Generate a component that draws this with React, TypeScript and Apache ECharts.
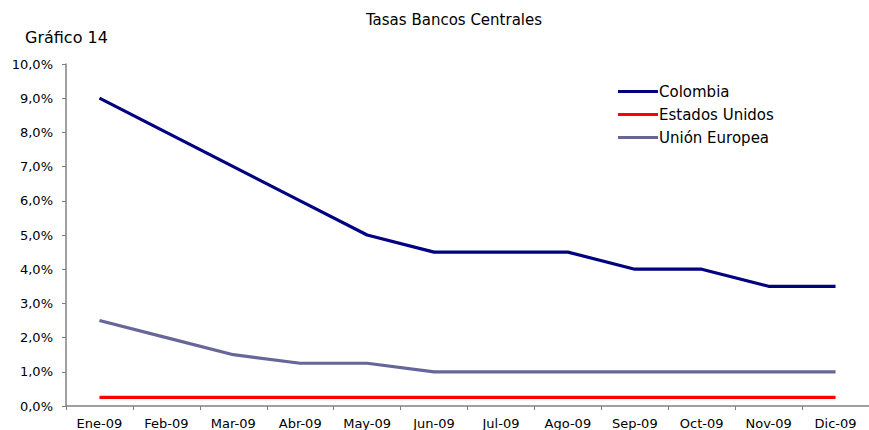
import React, { useEffect, useRef } from "react";
import * as echarts from "echarts";

const categories = ["Ene-09", "Feb-09", "Mar-09", "Abr-09", "May-09", "Jun-09", "Jul-09", "Ago-09", "Sep-09", "Oct-09", "Nov-09", "Dic-09"];
const colombia = [9.0, 8.0, 7.0, 6.0, 5.0, 4.5, 4.5, 4.5, 4.0, 4.0, 3.5, 3.5];
const estadosUnidos = [0.25, 0.25, 0.25, 0.25, 0.25, 0.25, 0.25, 0.25, 0.25, 0.25, 0.25, 0.25];
const unionEuropea = [2.5, 2.0, 1.5, 1.25, 1.25, 1.0, 1.0, 1.0, 1.0, 1.0, 1.0, 1.0];

const FONT = "'DejaVu Sans', 'Liberation Sans', Arial, sans-serif";

export default function App() {
  const ref = useRef<HTMLDivElement>(null);
  useEffect(() => {
    if (!ref.current) return;
    const chart = echarts.init(ref.current, null, { renderer: "svg" });
    const mk = (name: string, data: number[], color: string) => ({
      name,
      type: "line",
      data,
      symbol: "none",
      lineStyle: { color, width: 3.2 },
      itemStyle: { color },
    });
    chart.setOption({
      animation: false,
      backgroundColor: "#ffffff",
      textStyle: { fontFamily: FONT },
      title: [
        {
          text: "Tasas Bancos Centrales",
          left: 449,
          top: 7,
          textAlign: "center",
          textStyle: { fontSize: 15, fontWeight: "normal", color: "#000", fontFamily: FONT },
        },
        {
          text: "Gráfico 14",
          left: 20,
          top: 24,
          textStyle: { fontSize: 16, fontWeight: "normal", color: "#000", fontFamily: FONT },
        },
      ],
      legend: {
        orient: "vertical",
        left: 613,
        top: 79,
        itemWidth: 40,
        itemHeight: 3,
        itemGap: 8,
        icon: "rect",
        textStyle: { fontSize: 15, color: "#000", fontFamily: FONT, padding: [0, 0, 0, -4] },
        data: ["Colombia", "Estados Unidos", "Unión Europea"],
      },
      grid: { left: 66, right: -10, top: 64, bottom: 23, containLabel: false },
      xAxis: {
        type: "category",
        data: categories,
        boundaryGap: true,
        axisLine: { lineStyle: { color: "#808080", width: 1.5 } },
        axisTick: { show: true, length: 4, inside: false, lineStyle: { color: "#808080" } },
        axisLabel: { color: "#000", fontSize: 13, fontFamily: FONT, margin: 11, interval: 0 },
        splitLine: { show: false },
      },
      yAxis: {
        type: "value",
        min: 0,
        max: 10,
        interval: 1,
        axisLine: { show: true, lineStyle: { color: "#808080", width: 1.5 } },
        axisTick: { show: true, length: 4, lineStyle: { color: "#808080" } },
        axisLabel: {
          color: "#000",
          fontSize: 13,
          fontFamily: FONT,
          margin: 13,
          formatter: (v: number) => v.toFixed(1).replace(".", ",") + "%",
        },
        splitLine: { show: false },
      },
      series: [
        mk("Colombia", colombia, "#000080"),
        mk("Estados Unidos", estadosUnidos, "#ff0000"),
        mk("Unión Europea", unionEuropea, "#666699"),
      ],
    });
    return () => chart.dispose();
  }, []);
  return <div ref={ref} style={{ width: 869, height: 430, position: "absolute", left: 0, top: 0 }} />;
}
